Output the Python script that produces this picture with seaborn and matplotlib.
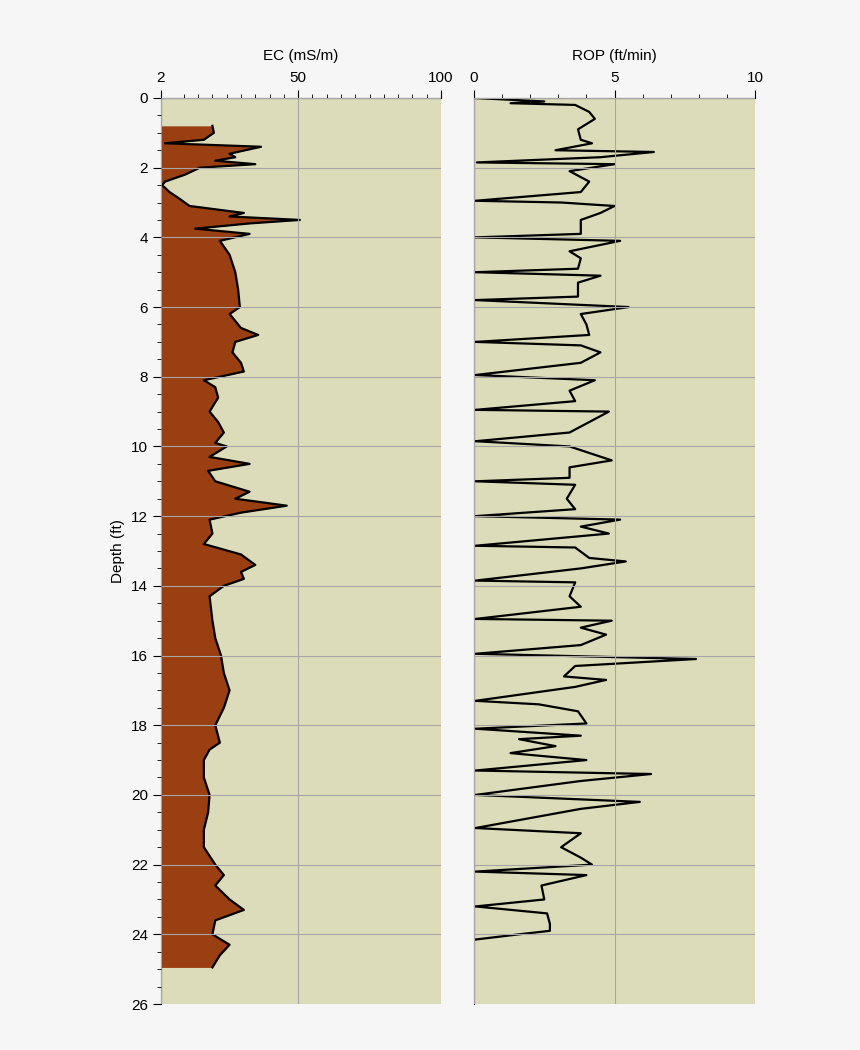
import numpy as np
import pandas as pd
import matplotlib
matplotlib.use("Agg")
import matplotlib.pyplot as plt
from matplotlib.ticker import MultipleLocator, FixedLocator
import seaborn as sns

# EC log (depth ft, mS/m)
ec_depth = [0.8, 1.0, 1.2, 1.3, 1.4, 1.6, 1.7, 1.8, 1.9, 2.0, 2.2, 2.4, 2.5, 2.7, 2.9, 3.1, 3.3, 3.4,
            3.5, 3.6, 3.75, 3.9, 4.1, 4.5, 5.0, 5.5, 6.0, 6.2, 6.6, 6.8, 7.0, 7.3, 7.6, 7.85, 8.1,
            8.3, 8.6, 9.0, 9.3, 9.6, 9.9, 10.0, 10.3, 10.5, 10.7, 11.0, 11.3, 11.5, 11.7, 11.9,
            12.1, 12.5, 12.8, 13.1, 13.4, 13.6, 13.8, 14.0, 14.3, 15.0, 15.5, 16.0, 16.5, 17.0,
            17.5, 18.0, 18.5, 18.7, 19.0, 19.5, 20.0, 20.5, 21.0, 21.5, 22.0, 22.3, 22.6, 23.0,
            23.3, 23.6, 24.0, 24.3, 24.6, 24.95]
ec_value = [20, 20.5, 17, 3.4, 37, 26, 28, 21, 35, 15.6, 10.4, 3.4, 2.4, 5, 8.6, 12, 31, 26,
            50.6, 33, 14, 33, 22.6, 26, 28, 29, 29.6, 26, 30, 36, 28, 27, 30, 31, 17,
            21, 22, 19, 22, 24, 21, 25, 19, 33, 18.5, 21, 33, 28, 46, 30,
            19, 20, 17, 30, 35, 30, 31, 24, 19, 20, 21, 23, 24, 26,
            24, 21, 22.6, 19, 17, 17, 19, 18.5, 17, 17, 21, 24, 21, 26,
            31, 21, 20, 26, 22.6, 20]

# ROP log (depth ft, ft/min)
rop_depth = [0.0, 0.1, 0.15, 0.2, 0.4, 0.6, 0.9, 1.2, 1.3, 1.5, 1.55, 1.7, 1.85, 1.9, 2.1, 2.4, 2.7,
             2.95, 3.0, 3.1, 3.3, 3.5, 3.9, 4.0, 4.1, 4.4, 4.6, 4.9, 5.0, 5.1, 5.3, 5.7, 5.8, 6.0,
             6.2, 6.5, 6.8, 7.0, 7.1, 7.3, 7.6, 7.95, 8.1, 8.4, 8.7, 8.95, 9.0, 9.3, 9.6, 9.85,
             10.0, 10.4, 10.6, 10.9, 11.0, 11.1, 11.5, 11.8, 12.0, 12.1, 12.3, 12.5, 12.85, 12.9,
             13.2, 13.3, 13.5, 13.85, 13.9, 14.3, 14.6, 14.95, 15.0, 15.2, 15.4, 15.7, 15.95,
             16.1, 16.3, 16.6, 16.7, 16.9, 17.3, 17.4, 17.6, 17.95, 18.1, 18.3, 18.4, 18.6, 18.8,
             19.0, 19.3, 19.4, 19.6, 20.0, 20.2, 20.4, 20.95, 21.1, 21.5, 21.8, 22.0, 22.2, 22.3,
             22.6, 23.0, 23.2, 23.4, 23.7, 23.9, 24.0, 24.15]
rop_value = [0.0, 2.5, 1.3, 3.6, 4.1, 4.3, 3.7, 3.8, 4.2, 2.9, 6.4, 4.5, 0.1, 5.0, 3.4, 4.1, 3.8,
             0.05, 3.1, 5.0, 4.5, 3.8, 3.8, 0.05, 5.2, 3.4, 3.8, 3.7, 0.05, 4.5, 3.7, 3.7, 0.05, 5.5,
             3.8, 4.0, 4.1, 0.05, 3.8, 4.5, 3.8, 0.05, 4.3, 3.4, 3.6, 0.05, 4.8, 4.1, 3.4, 0.05,
             3.4, 4.9, 3.4, 3.4, 0.05, 3.6, 3.3, 3.6, 0.05, 5.2, 3.8, 4.8, 0.05, 3.6,
             4.1, 5.4, 3.8, 0.05, 3.6, 3.4, 3.8, 0.05, 4.9, 3.8, 4.7, 3.8, 0.05,
             7.9, 3.6, 3.2, 4.7, 3.6, 0.05, 2.3, 3.7, 4.0, 0.05, 3.8, 1.6, 2.9, 1.3,
             4.0, 0.05, 6.3, 3.8, 0.05, 5.9, 3.8, 0.05, 3.8, 3.1, 3.8, 4.2, 0.05, 4.0,
             2.4, 2.5, 0.05, 2.6, 2.7, 2.7, 1.6, 0.05]

ec = pd.DataFrame({"depth": ec_depth, "ec": ec_value})
rop = pd.DataFrame({"depth": rop_depth, "rop": rop_value})

bg = "#dcdcba"
plt.rcParams["font.family"] = ["Liberation Sans", "DejaVu Sans"]
fig = plt.figure(figsize=(8.6, 10.5), dpi=100, facecolor="#f6f6f6")
ax1 = fig.add_axes([0.1872, 0.0438, 0.3256, 0.8629])
ax2 = fig.add_axes([0.5512, 0.0438, 0.3267, 0.8629])

ax1.fill_betweenx(ec["depth"], 2, ec["ec"], color="#9a3f12", lw=0)
sns.lineplot(data=ec, x="ec", y="depth", orient="y", sort=False, color="black", lw=1.6, ax=ax1)
sns.lineplot(data=rop, x="rop", y="depth", orient="y", sort=False, color="black", lw=1.6, ax=ax2)

for ax in (ax1, ax2):
    ax.set_facecolor(bg)
    ax.set_ylim(26, 0)
    ax.xaxis.tick_top()
    ax.xaxis.set_label_position("top")
    ax.grid(True, color="#a6a6a6", lw=0.8)
    ax.set_axisbelow(False)
    for s in ("right", "bottom"):
        ax.spines[s].set_visible(False)
    ax.tick_params(which="both", direction="out", labelsize=11)
    ax.tick_params(which="major", length=6)
    ax.tick_params(which="minor", length=3)
    ax.yaxis.set_major_locator(MultipleLocator(2))
    ax.yaxis.set_minor_locator(MultipleLocator(0.5))

ax1.set_xlim(2, 100)
ax1.set_xticks([2, 50, 100])
ax1.xaxis.set_minor_locator(FixedLocator(np.arange(10, 100, 5)))
ax1.set_xlabel("EC (mS/m)", fontsize=11, labelpad=8)
ax1.set_ylabel("Depth (ft)", fontsize=11)

ax2.set_xlim(0, 10)
ax2.set_xticks([0, 5, 10])
ax2.xaxis.set_minor_locator(MultipleLocator(1))
ax2.set_xlabel("ROP (ft/min)", fontsize=11, labelpad=8)
ax2.set_ylabel("")
ax2.tick_params(axis="y", which="both", labelleft=False, length=0)

fig.savefig("out.png", dpi=100, facecolor=fig.get_facecolor())
